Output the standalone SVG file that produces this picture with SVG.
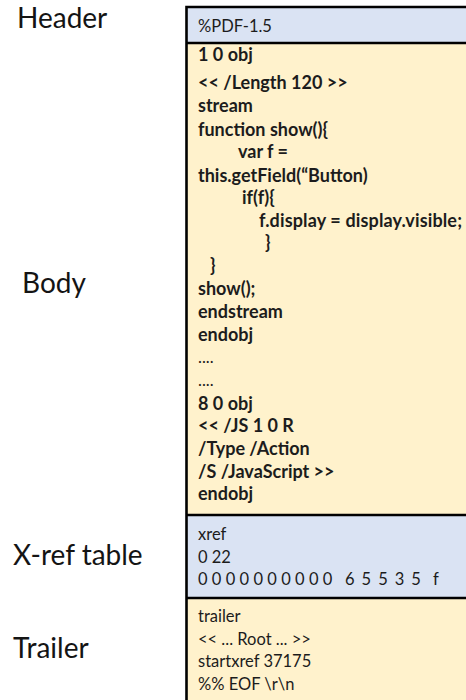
<svg xmlns="http://www.w3.org/2000/svg" width="466" height="700" viewBox="0 0 466 700">
<style>
.lbl{font-family:Lato,"Liberation Sans",sans-serif;font-size:28px;fill:#141414}
.code{font-family:Lato,"Liberation Sans",sans-serif;font-size:18px;font-weight:bold;fill:#1c1c1c}
.reg{font-family:Lato,"Liberation Sans",sans-serif;font-size:16.5px;fill:#1c1c1c}
.blue{fill:#dae3f3}
.yel{fill:#fff2cc}
.bd{stroke:#000;stroke-width:2.6;fill:none}
</style>
<rect width="466" height="700" fill="#fff"/>
<g id="labels">
<text class="lbl" x="17" y="28">Header</text>
<text class="lbl" x="22" y="293">Body</text>
<text class="lbl" x="13" y="565">X-ref table</text>
<text class="lbl" x="13" y="658">Trailer</text>
</g>
<g id="header">
<rect class="blue" x="186" y="7" width="290" height="36"/>
<text class="reg" x="198" y="32">%PDF-1.5</text>
</g>
<g id="body">
<rect class="yel" x="186" y="43" width="290" height="472"/>
<text class="code" x="198" y="61">1 0 obj</text>
<text class="code" x="198" y="89">&lt;&lt; /Length 120 &gt;&gt;</text>
<text class="code" x="198" y="112">stream</text>
<text class="code" x="198" y="136">function show(){</text>
<text class="code" x="238" y="158">var f =</text>
<text class="code" x="198" y="182">this.getField(“Button)</text>
<text class="code" x="242" y="204">if(f){</text>
<text class="code" x="259" y="227" textLength="203" lengthAdjust="spacing">f.display = display.visible;</text>
<text class="code" x="265" y="249">}</text>
<text class="code" x="210" y="272">}</text>
<text class="code" x="198" y="295">show();</text>
<text class="code" x="198" y="318">endstream</text>
<text class="code" x="198" y="341">endobj</text>
<text class="reg" x="198" y="363" font-size="12">....</text>
<text class="reg" x="198" y="386" font-size="12">....</text>
<text class="code" x="198" y="410">8 0 obj</text>
<text class="code" x="198" y="432">&lt;&lt; /JS 1 0 R</text>
<text class="code" x="198" y="455">/Type /Action</text>
<text class="code" x="198" y="478">/S /JavaScript &gt;&gt;</text>
<text class="code" x="198" y="500">endobj</text>
</g>
<g id="xref">
<rect class="blue" x="186" y="515" width="290" height="83"/>
<text class="reg" x="198" y="540">xref</text>
<text class="reg" x="198" y="563">0 22</text>
<text class="reg" x="198" y="585" letter-spacing="4.3">0000000000</text>
<text class="reg" x="345" y="585" letter-spacing="7">65535</text>
<text class="reg" x="433" y="585">f</text>
</g>
<g id="trailer">
<rect class="yel" x="186" y="598" width="290" height="110"/>
<text class="reg" x="198" y="622">trailer</text>
<text class="reg" x="198" y="645">&lt;&lt; ... Root ... &gt;&gt;</text>
<text class="reg" x="198" y="667">startxref 37175</text>
<text class="reg" x="198" y="690">%% EOF \r\n</text>
</g>
<g id="borders">
<path class="bd" d="M476 7H186.5V710"/>
<path class="bd" d="M186 43H476M186 515H476M186 598H476"/>
</g>
</svg>
